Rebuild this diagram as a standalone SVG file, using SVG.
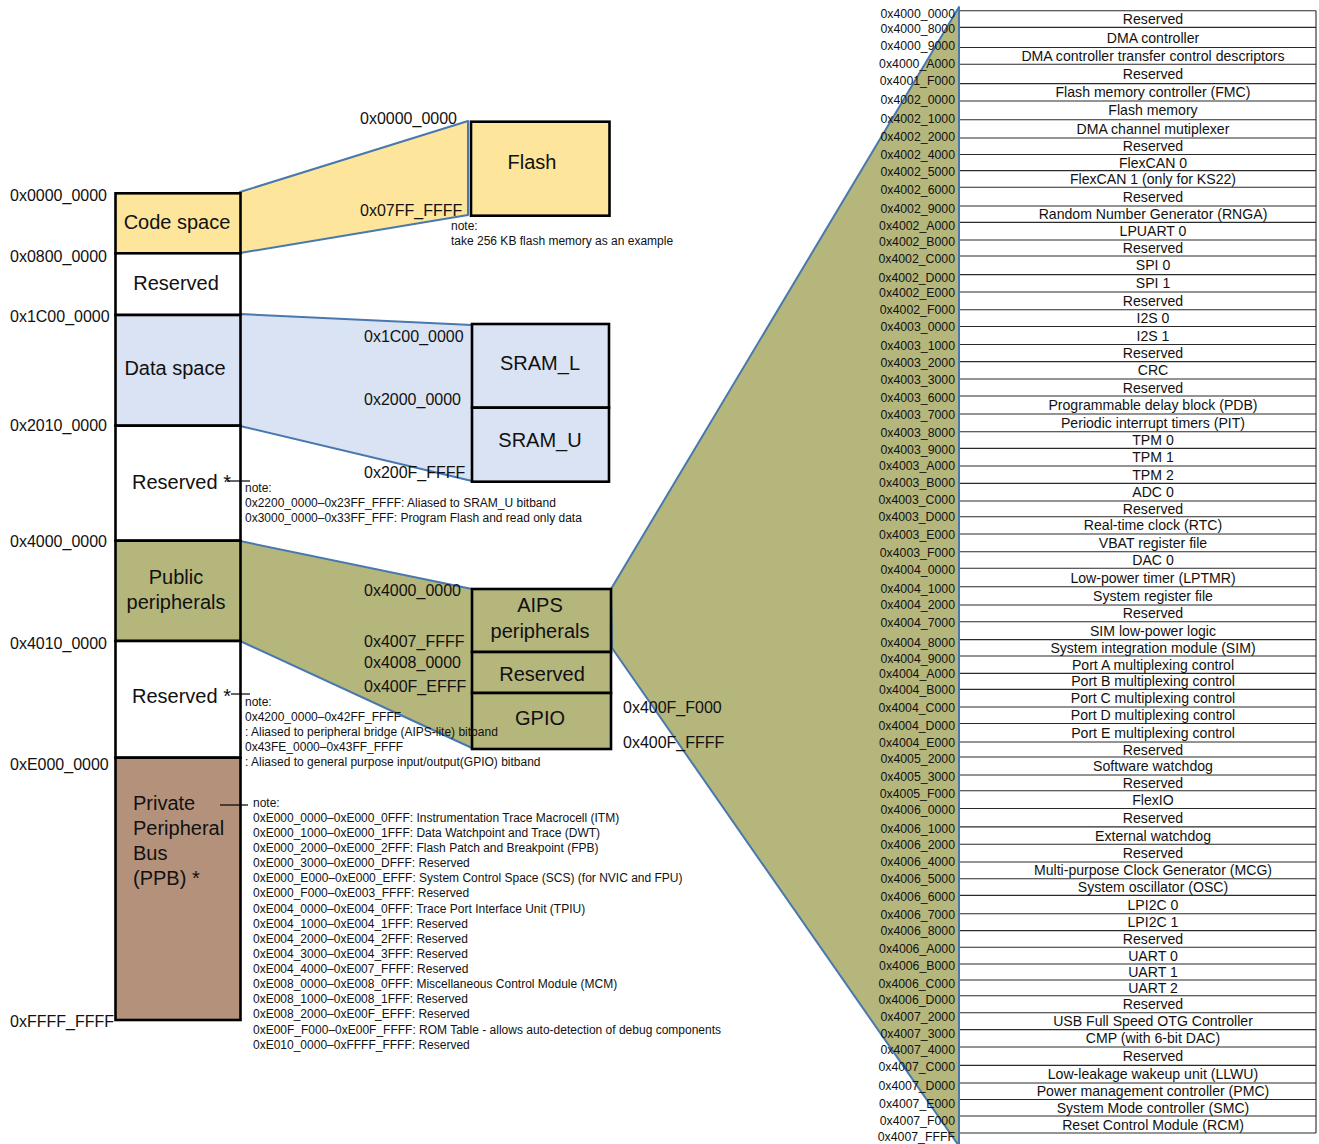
<svg xmlns="http://www.w3.org/2000/svg" width="1319" height="1144" viewBox="0 0 1319 1144">
<style>
text { font-family: "Liberation Sans", Arial, Helvetica, sans-serif; fill: #111; }
.t20 { font-size: 20px; }
.t16 { font-size: 16px; }
.t14 { font-size: 14px; }
.t12 { font-size: 12px; }
.hx { font-size: 12.3px; text-anchor: end; }
.row { font-size: 14.1px; text-anchor: middle; }
.mid { text-anchor: middle; }
.box { stroke: #000; stroke-width: 2.6; }
.map { stroke: #4878AE; stroke-width: 2; stroke-linejoin: round; }
.lead { stroke: #000; stroke-width: 1.2; fill: none; }
.yel { fill: #FDE59B; }
.blu { fill: #DAE3F3; }
.oli { fill: #B4B67C; }
.brn { fill: #B4917A; }
.wht { fill: #FFFFFF; }
.tbl { stroke: #2a2a2a; stroke-width: 1.1; fill: none; }
</style>
<rect width="1319" height="1144" fill="#FFFFFF"/>

<g id="connectors">
  <polygon class="map yel" points="240,192 468,121 468,215 240,253"/>
  <polygon class="map blu" points="240,314 472,325 472,481 240,426"/>
  <polygon class="map oli" points="240,541 472,589 472,748 240,641"/>
  <polygon class="map oli" points="611,589 959,7 959,1146 612,648"/>
</g>

<g id="node-code-space">
  <rect class="box yel" x="115.5" y="193.3" width="125" height="60"/>
  <text class="t20 mid" x="177" y="229">Code space</text>
</g>
<g id="node-reserved-1">
  <rect class="box wht" x="115.5" y="253.3" width="125" height="61.7"/>
  <text class="t20 mid" x="176" y="290">Reserved</text>
</g>
<g id="node-data-space">
  <rect class="box blu" x="115.5" y="315" width="125" height="110.7"/>
  <text class="t20 mid" x="175" y="375">Data space</text>
</g>
<g id="node-reserved-2">
  <rect class="box wht" x="115.5" y="425.7" width="125" height="115"/>
  <text class="t20" x="132" y="489">Reserved *</text>
</g>
<g id="node-public-peripherals">
  <rect class="box oli" x="115.5" y="540.7" width="125" height="100.3"/>
  <text class="t20 mid" x="176" y="584">Public</text>
  <text class="t20 mid" x="176" y="609">peripherals</text>
</g>
<g id="node-reserved-3">
  <rect class="box wht" x="115.5" y="641" width="125" height="116.7"/>
  <text class="t20" x="132" y="703">Reserved *</text>
</g>
<g id="node-ppb">
  <rect class="box brn" x="115.5" y="757.7" width="125" height="262.3"/>
  <text class="t20" x="133" y="810">Private</text>
  <text class="t20" x="133" y="835">Peripheral</text>
  <text class="t20" x="133" y="860">Bus</text>
  <text class="t20" x="133" y="885">(PPB) *</text>
</g>

<g id="connectors-notes">
  <line class="lead" x1="227" y1="481" x2="250" y2="481"/>
  <line class="lead" x1="231" y1="694" x2="250" y2="694"/>
  <line class="lead" x1="220" y1="805" x2="248" y2="805"/>
</g>

<g id="addr-left">
  <text class="t16" x="10" y="201">0x0000_0000</text>
  <text class="t16" x="10" y="262">0x0800_0000</text>
  <text class="t16" x="10" y="322">0x1C00_0000</text>
  <text class="t16" x="10" y="431">0x2010_0000</text>
  <text class="t16" x="10" y="547">0x4000_0000</text>
  <text class="t16" x="10" y="649">0x4010_0000</text>
  <text class="t16" x="10" y="770">0xE000_0000</text>
  <text class="t16" x="10" y="1027">0xFFFF_FFFF</text>
</g>

<g id="node-flash">
  <rect class="box yel" x="471" y="121.7" width="138.5" height="94"/>
  <text class="t20 mid" x="532" y="169">Flash</text>
</g>
<g id="node-sram-l">
  <rect class="box blu" x="472" y="324" width="137" height="83.7"/>
  <text class="t20 mid" x="540" y="370">SRAM_L</text>
</g>
<g id="node-sram-u">
  <rect class="box blu" x="472" y="407.7" width="137" height="74"/>
  <text class="t20 mid" x="540" y="447">SRAM_U</text>
</g>
<g id="node-aips">
  <rect class="box oli" x="472" y="589" width="139" height="63"/>
  <text class="t20 mid" x="540" y="612">AIPS</text>
  <text class="t20 mid" x="540" y="638">peripherals</text>
</g>
<g id="node-reserved-aips">
  <rect class="box oli" x="472" y="652" width="139" height="41"/>
  <text class="t20 mid" x="542" y="681">Reserved</text>
</g>
<g id="node-gpio">
  <rect class="box oli" x="472" y="693" width="139" height="56"/>
  <text class="t20 mid" x="540" y="725">GPIO</text>
</g>

<g id="addr-mid">
  <text class="t16" x="360" y="124">0x0000_0000</text>
  <text class="t16" x="360" y="216">0x07FF_FFFF</text>
  <text class="t16" x="364" y="342">0x1C00_0000</text>
  <text class="t16" x="364" y="405">0x2000_0000</text>
  <text class="t16" x="364" y="478">0x200F_FFFF</text>
  <text class="t16" x="364" y="596">0x4000_0000</text>
  <text class="t16" x="364" y="647">0x4007_FFFF</text>
  <text class="t16" x="364" y="668">0x4008_0000</text>
  <text class="t16" x="364" y="692">0x400F_EFFF</text>
  <text class="t16" x="623" y="713">0x400F_F000</text>
  <text class="t16" x="623" y="748">0x400F_FFFF</text>
</g>

<g id="notes">
  <text class="t12" x="451" y="230">note:</text>
  <text class="t12" x="451" y="245">take 256 KB flash memory as an example</text>
  <text class="t12" x="245" y="492">note:</text>
  <text class="t12" x="245" y="507">0x2200_0000–0x23FF_FFFF: Aliased to SRAM_U bitband</text>
  <text class="t12" x="245" y="522">0x3000_0000–0x33FF_FFF: Program Flash and read only data</text>
  <text class="t12" x="245" y="706">note:</text>
  <text class="t12" x="245" y="721">0x4200_0000–0x42FF_FFFF</text>
  <text class="t12" x="245" y="736">: Aliased to peripheral bridge (AIPS-lite) bitband</text>
  <text class="t12" x="245" y="751">0x43FE_0000–0x43FF_FFFF</text>
  <text class="t12" x="245" y="766">: Aliased to general purpose input/output(GPIO) bitband</text>
  <text class="t12" x="253" y="807">note:</text>
  <text class="t12" x="253" y="822">0xE000_0000–0xE000_0FFF: Instrumentation Trace Macrocell (ITM)</text>
  <text class="t12" x="253" y="837">0xE000_1000–0xE000_1FFF: Data Watchpoint and Trace (DWT)</text>
  <text class="t12" x="253" y="852">0xE000_2000–0xE000_2FFF: Flash Patch and Breakpoint (FPB)</text>
  <text class="t12" x="253" y="867">0xE000_3000–0xE000_DFFF: Reserved</text>
  <text class="t12" x="253" y="882">0xE000_E000–0xE000_EFFF: System Control Space (SCS) (for NVIC and FPU)</text>
  <text class="t12" x="253" y="897">0xE000_F000–0xE003_FFFF: Reserved</text>
  <text class="t12" x="253" y="913">0xE004_0000–0xE004_0FFF: Trace Port Interface Unit (TPIU)</text>
  <text class="t12" x="253" y="928">0xE004_1000–0xE004_1FFF: Reserved</text>
  <text class="t12" x="253" y="943">0xE004_2000–0xE004_2FFF: Reserved</text>
  <text class="t12" x="253" y="958">0xE004_3000–0xE004_3FFF: Reserved</text>
  <text class="t12" x="253" y="973">0xE004_4000–0xE007_FFFF: Reserved</text>
  <text class="t12" x="253" y="988">0xE008_0000–0xE008_0FFF: Miscellaneous Control Module (MCM)</text>
  <text class="t12" x="253" y="1003">0xE008_1000–0xE008_1FFF: Reserved</text>
  <text class="t12" x="253" y="1018">0xE008_2000–0xE00F_EFFF: Reserved</text>
  <text class="t12" x="253" y="1034">0xE00F_F000–0xE00F_FFFF: ROM Table - allows auto-detection of debug components</text>
  <text class="t12" x="253" y="1049">0xE010_0000–0xFFFF_FFFF:  Reserved</text>
</g>

<g id="node-aips-table">
  <path class="tbl" d="M959 10.7H1316 M959 27.4H1316 M959 47.5H1316 M959 64.2H1316 M959 83.6H1316 M959 101H1316 M959 119.7H1316 M959 138H1316 M959 154.5H1316 M959 170.6H1316 M959 187.3H1316 M959 206H1316 M959 222.4H1316 M959 240H1316 M959 256H1316 M959 274.6H1316 M959 292H1316 M959 309.7H1316 M959 326.5H1316 M959 344.5H1316 M959 361.6H1316 M959 379H1316 M959 396H1316 M959 414H1316 M959 431.7H1316 M959 448.4H1316 M959 466H1316 M959 483.4H1316 M959 501H1316 M959 516.7H1316 M959 534H1316 M959 551.7H1316 M959 568.3H1316 M959 586.7H1316 M959 605H1316 M959 621.8H1316 M959 639.6H1316 M959 656H1316 M959 673.4H1316 M959 689.4H1316 M959 707H1316 M959 723.5H1316 M959 742H1316 M959 757H1316 M959 775H1316 M959 790.8H1316 M959 808.5H1316 M959 826.9H1316 M959 844.3H1316 M959 862H1316 M959 878.7H1316 M959 895.4H1316 M959 913.8H1316 M959 930.6H1316 M959 947.3H1316 M959 964H1316 M959 980H1316 M959 995.8H1316 M959 1012.8H1316 M959 1029.6H1316 M959 1047H1316 M959 1065.4H1316 M959 1083H1316 M959 1099.5H1316 M959 1116H1316 M959 1133H1316 M1316 10.7V1133"/>
  <line x1="959" y1="7" x2="959" y2="1144" stroke="#4878AE" stroke-width="2"/>
  <text class="row" x="1153" y="24">Reserved</text>
  <text class="row" x="1153" y="42.5">DMA controller</text>
  <text class="row" x="1153" y="61">DMA controller transfer control descriptors</text>
  <text class="row" x="1153" y="79">Reserved</text>
  <text class="row" x="1153" y="97.3">Flash memory controller (FMC)</text>
  <text class="row" x="1153" y="115.3">Flash memory</text>
  <text class="row" x="1153" y="133.9">DMA channel mutiplexer</text>
  <text class="row" x="1153" y="151.3">Reserved</text>
  <text class="row" x="1153" y="167.6">FlexCAN 0</text>
  <text class="row" x="1153" y="184">FlexCAN 1 (only for KS22)</text>
  <text class="row" x="1153" y="201.7">Reserved</text>
  <text class="row" x="1153" y="219.2">Random Number Generator (RNGA)</text>
  <text class="row" x="1153" y="236.2">LPUART 0</text>
  <text class="row" x="1153" y="253">Reserved</text>
  <text class="row" x="1153" y="270.3">SPI 0</text>
  <text class="row" x="1153" y="288.3">SPI 1</text>
  <text class="row" x="1153" y="305.9">Reserved</text>
  <text class="row" x="1153" y="323.1">I2S 0</text>
  <text class="row" x="1153" y="340.5">I2S 1</text>
  <text class="row" x="1153" y="358">Reserved</text>
  <text class="row" x="1153" y="375.3">CRC</text>
  <text class="row" x="1153" y="392.5">Reserved</text>
  <text class="row" x="1153" y="410">Programmable delay block (PDB)</text>
  <text class="row" x="1153" y="427.9">Periodic interrupt timers (PIT)</text>
  <text class="row" x="1153" y="445">TPM 0</text>
  <text class="row" x="1153" y="462.2">TPM 1</text>
  <text class="row" x="1153" y="479.7">TPM 2</text>
  <text class="row" x="1153" y="497.2">ADC 0</text>
  <text class="row" x="1153" y="513.9">Reserved</text>
  <text class="row" x="1153" y="530.4">Real-time clock (RTC)</text>
  <text class="row" x="1153" y="547.9">VBAT register file</text>
  <text class="row" x="1153" y="565">DAC 0</text>
  <text class="row" x="1153" y="582.5">Low-power timer (LPTMR)</text>
  <text class="row" x="1153" y="600.9">System register file</text>
  <text class="row" x="1153" y="618.4">Reserved</text>
  <text class="row" x="1153" y="635.7">SIM low-power logic</text>
  <text class="row" x="1153" y="652.8">System integration module (SIM)</text>
  <text class="row" x="1153" y="669.7">Port A multiplexing control</text>
  <text class="row" x="1153" y="686.4">Port B multiplexing control</text>
  <text class="row" x="1153" y="703.2">Port C multiplexing control</text>
  <text class="row" x="1153" y="720.3">Port D multiplexing control</text>
  <text class="row" x="1153" y="737.8">Port E multiplexing control</text>
  <text class="row" x="1153" y="754.5">Reserved</text>
  <text class="row" x="1153" y="771">Software watchdog</text>
  <text class="row" x="1153" y="787.9">Reserved</text>
  <text class="row" x="1153" y="804.7">FlexIO</text>
  <text class="row" x="1153" y="822.7">Reserved</text>
  <text class="row" x="1153" y="840.6">External watchdog</text>
  <text class="row" x="1153" y="858.2">Reserved</text>
  <text class="row" x="1153" y="875.4">Multi-purpose Clock Generator (MCG)</text>
  <text class="row" x="1153" y="892">System oscillator (OSC)</text>
  <text class="row" x="1153" y="909.6">LPI2C 0</text>
  <text class="row" x="1153" y="927.2">LPI2C 1</text>
  <text class="row" x="1153" y="944">Reserved</text>
  <text class="row" x="1153" y="960.7">UART 0</text>
  <text class="row" x="1153" y="977">UART 1</text>
  <text class="row" x="1153" y="992.9">UART 2</text>
  <text class="row" x="1153" y="1009.3">Reserved</text>
  <text class="row" x="1153" y="1026.2">USB Full Speed OTG Controller</text>
  <text class="row" x="1153" y="1043.3">CMP (with 6-bit DAC)</text>
  <text class="row" x="1153" y="1061.2">Reserved</text>
  <text class="row" x="1153" y="1079.2">Low-leakage wakeup unit (LLWU)</text>
  <text class="row" x="1153" y="1096.3">Power management controller (PMC)</text>
  <text class="row" x="1153" y="1112.8">System Mode controller (SMC)</text>
  <text class="row" x="1153" y="1129.5">Reset Control Module (RCM)</text>
</g>

<g id="addr-right">
  <text class="hx" x="955" y="17.7">0x4000_0000</text>
  <text class="hx" x="955" y="33.3">0x4000_8000</text>
  <text class="hx" x="955" y="50.3">0x4000_9000</text>
  <text class="hx" x="955" y="67.8">0x4000_A000</text>
  <text class="hx" x="955" y="85.3">0x4001_F000</text>
  <text class="hx" x="955" y="104.3">0x4002_0000</text>
  <text class="hx" x="955" y="123.3">0x4002_1000</text>
  <text class="hx" x="955" y="141.3">0x4002_2000</text>
  <text class="hx" x="955" y="158.8">0x4002_4000</text>
  <text class="hx" x="955" y="176.3">0x4002_5000</text>
  <text class="hx" x="955" y="194.3">0x4002_6000</text>
  <text class="hx" x="955" y="213.3">0x4002_9000</text>
  <text class="hx" x="955" y="230.1">0x4002_A000</text>
  <text class="hx" x="955" y="246.1">0x4002_B000</text>
  <text class="hx" x="955" y="263.3">0x4002_C000</text>
  <text class="hx" x="955" y="281.9">0x4002_D000</text>
  <text class="hx" x="955" y="297.3">0x4002_E000</text>
  <text class="hx" x="955" y="313.7">0x4002_F000</text>
  <text class="hx" x="955" y="331.3">0x4003_0000</text>
  <text class="hx" x="955" y="349.8">0x4003_1000</text>
  <text class="hx" x="955" y="367.3">0x4003_2000</text>
  <text class="hx" x="955" y="383.9">0x4003_3000</text>
  <text class="hx" x="955" y="402.3">0x4003_6000</text>
  <text class="hx" x="955" y="419.3">0x4003_7000</text>
  <text class="hx" x="955" y="437.3">0x4003_8000</text>
  <text class="hx" x="955" y="454.3">0x4003_9000</text>
  <text class="hx" x="955" y="470.3">0x4003_A000</text>
  <text class="hx" x="955" y="487.3">0x4003_B000</text>
  <text class="hx" x="955" y="504.3">0x4003_C000</text>
  <text class="hx" x="955" y="521.3">0x4003_D000</text>
  <text class="hx" x="955" y="539.3">0x4003_E000</text>
  <text class="hx" x="955" y="557.3">0x4003_F000</text>
  <text class="hx" x="955" y="574.3">0x4004_0000</text>
  <text class="hx" x="955" y="593.3">0x4004_1000</text>
  <text class="hx" x="955" y="609.3">0x4004_2000</text>
  <text class="hx" x="955" y="626.8">0x4004_7000</text>
  <text class="hx" x="955" y="646.8">0x4004_8000</text>
  <text class="hx" x="955" y="662.9">0x4004_9000</text>
  <text class="hx" x="955" y="678.3">0x4004_A000</text>
  <text class="hx" x="955" y="694.3">0x4004_B000</text>
  <text class="hx" x="955" y="712">0x4004_C000</text>
  <text class="hx" x="955" y="729.8">0x4004_D000</text>
  <text class="hx" x="955" y="747.3">0x4004_E000</text>
  <text class="hx" x="955" y="763.3">0x4005_2000</text>
  <text class="hx" x="955" y="781">0x4005_3000</text>
  <text class="hx" x="955" y="797.7">0x4005_F000</text>
  <text class="hx" x="955" y="814.3">0x4006_0000</text>
  <text class="hx" x="955" y="832.9">0x4006_1000</text>
  <text class="hx" x="955" y="849.3">0x4006_2000</text>
  <text class="hx" x="955" y="866.3">0x4006_4000</text>
  <text class="hx" x="955" y="883.3">0x4006_5000</text>
  <text class="hx" x="955" y="901.3">0x4006_6000</text>
  <text class="hx" x="955" y="918.8">0x4006_7000</text>
  <text class="hx" x="955" y="935.3">0x4006_8000</text>
  <text class="hx" x="955" y="953.3">0x4006_A000</text>
  <text class="hx" x="955" y="970.3">0x4006_B000</text>
  <text class="hx" x="955" y="987.7">0x4006_C000</text>
  <text class="hx" x="955" y="1004.3">0x4006_D000</text>
  <text class="hx" x="955" y="1021.2">0x4007_2000</text>
  <text class="hx" x="955" y="1037.9">0x4007_3000</text>
  <text class="hx" x="955" y="1054.3">0x4007_4000</text>
  <text class="hx" x="955" y="1071.3">0x4007_C000</text>
  <text class="hx" x="955" y="1089.8">0x4007_D000</text>
  <text class="hx" x="955" y="1108.3">0x4007_E000</text>
  <text class="hx" x="955" y="1124.9">0x4007_F000</text>
  <text class="hx" x="955" y="1141.3">0x4007_FFFF</text>
</g>
</svg>
